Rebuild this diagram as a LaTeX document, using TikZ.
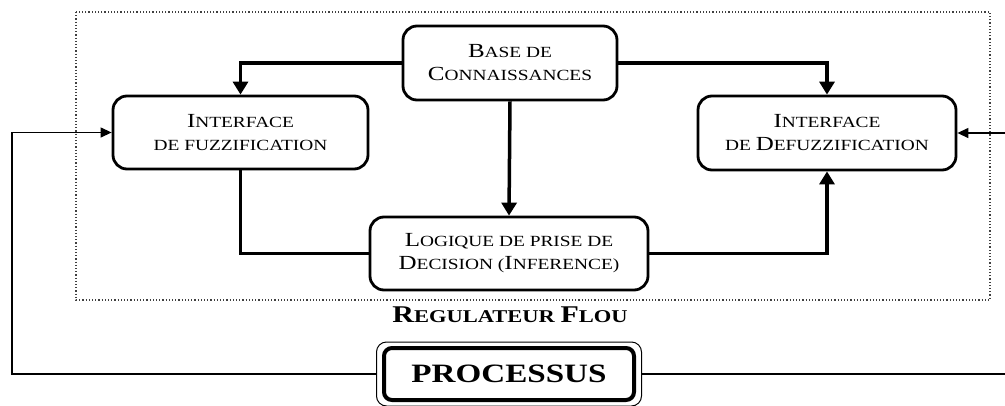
\documentclass[tikz,border=0pt]{standalone}
\usepackage{fontspec}
\setmainfont[FakeStretch=1.25]{Liberation Serif}
\usetikzlibrary{arrows.meta}

% grande capitale en tete de mot
\newcommand{\gr}[1]{{\fontsize{20}{23}\selectfont #1}}

\tikzset{
  bloc/.style={draw, line width=2.8pt, rounded corners=14pt, align=center,
    inner sep=0pt, font=\fontsize{15.5}{23}\selectfont},
  lien/.style={line width=3.5pt, -{Triangle[length=13pt,width=15pt]}},
  retour/.style={line width=1.3pt, -{Triangle[length=11pt,width=10pt]}},
}

\begin{document}
\begin{tikzpicture}[x=1pt, y=-1pt]
        \useasboundingbox (0,0) rectangle (1005,405);

            % cadre du regulateur
            \draw[gray!50!black, dotted, line width=1.2pt] (76,12) rectangle (990,300);

            \node[bloc, minimum width=214pt, minimum height=74pt] (base) at (510,63) {\gr{B}ASE DE\\\gr{C}ONNAISSANCES};
            \node[bloc, minimum width=255pt, minimum height=73pt] (fuzz) at (240.5,132.5) {\gr{I}NTERFACE\\DE FUZZIFICATION};
            \node[bloc, minimum width=258pt, minimum height=74pt] (defuzz) at (827,133) {\gr{I}NTERFACE\\DE \gr{D}EFUZZIFICATION};
            \node[bloc, minimum width=278pt, minimum height=73pt] (logique) at (509,253.5) {\gr{L}OGIQUE DE PRISE DE\\\gr{D}ECISION (\gr{I}NFERENCE)};

            \node[font=\bfseries\fontsize{18}{22}\selectfont] (regul) at (510,315) {{\fontsize{24}{22}\selectfont R}EGULATEUR {\fontsize{24}{22}\selectfont F}LOU};

            \node[draw, line width=1pt, rounded corners=10pt, minimum width=265pt, minimum height=64pt] (procext) at (509,374) {};
            \node[draw, line width=4pt, rounded corners=8pt, minimum width=250pt, minimum height=52pt, font=\bfseries\fontsize{26.5}{30}\selectfont] (proc) at (509,374) {PROCESSUS};

            \coordinate (gauche) at (12,250);
            \coordinate (droite) at (1005,250);

            \draw[lien] (base.west) -| (fuzz.north);
            \draw[lien] (base.east) -| (defuzz.north);
            \draw[lien] (base.south) -- (logique.north);
            \draw[line width=3.5pt] (fuzz.south) |- (logique.west);
            \draw[lien] (logique.east) -| (defuzz.south);

            \draw[retour] (procext.west) -| (gauche) |- (fuzz.west);
            \draw[line width=1.3pt] (procext.east) -- (procext.east -| droite);
            \draw[retour] (defuzz.east -| droite) -- (defuzz.east);

        \end{tikzpicture}
\end{document}
